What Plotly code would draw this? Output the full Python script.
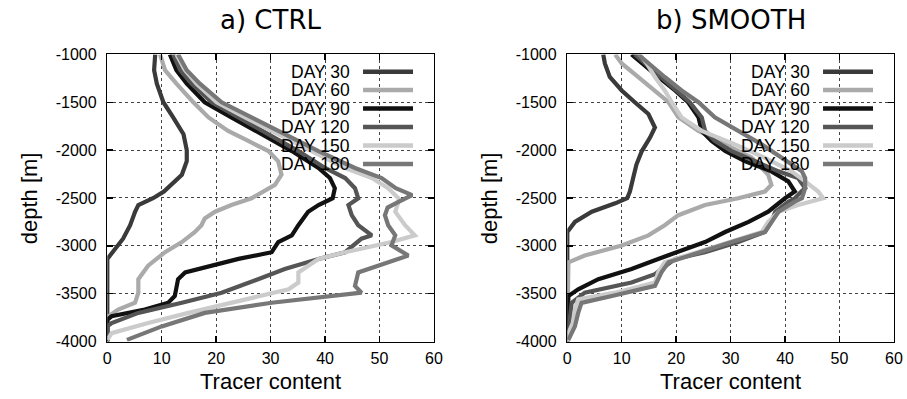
import plotly.graph_objects as go

# ---------------- DATA ----------------
DAYS = ["DAY 30", "DAY 60", "DAY 90", "DAY 120", "DAY 150", "DAY 180"]
COLORS = ["#3a3a3a", "#aaaaaa", "#111111", "#555555", "#cbcbcb", "#777777"]
X_TICKS = [0, 10, 20, 30, 40, 50, 60]
Y_TICKS = [-1000, -1500, -2000, -2500, -3000, -3500, -4000]
PANEL_TITLES = ["a) CTRL", "b) SMOOTH"]
X_LABEL = "Tracer content"
Y_LABEL = "depth [m]"

# ---- panel a) CTRL ----
ctrl_d30_z = [-1000, -1165, -1306, -1500, -1658, -1834, -2000, -2116, -2257, -2363, -2433, -2503, -2574, -2644, -2785, -2926, -3067, -3137, -4000]
ctrl_d30_x = [8.8, 8.6, 9.1, 10.3, 12.1, 14.0, 14.6, 14.6, 13.7, 11.8, 10.4, 8.4, 5.7, 5.1, 4.2, 2.9, 0.8, 0, 0]

ctrl_d60_z = [-1000, -1165, -1306, -1500, -1658, -1799, -1904, -2010, -2116, -2257, -2363, -2433, -2503, -2574, -2644, -2715, -2785, -2856, -2961, -3067, -3208, -3349, -3490, -3595, -3666, -3736, -4000]
ctrl_d60_x = [9.7, 10.6, 12.7, 15.8, 18.6, 22.2, 25.9, 29.6, 31.4, 32.0, 30.8, 28.8, 26.5, 22.8, 19.8, 17.9, 17.3, 16.1, 13.7, 10.6, 7.5, 5.7, 5.7, 5.1, 2.0, 0.2, 0]

ctrl_d90_z = [-1000, -1165, -1306, -1500, -1658, -1834, -2010, -2187, -2292, -2398, -2503, -2574, -2644, -2785, -2891, -2961, -3067, -3137, -3243, -3278, -3349, -3455, -3525, -3595, -3666, -3736, -3772, -4000]
ctrl_d90_x = [11.5, 12.7, 14.6, 17.9, 22.8, 28.4, 33.9, 38.8, 40.9, 41.8, 41.4, 38.8, 36.9, 35.1, 33.9, 31.4, 30.2, 24.1, 16.7, 14.3, 13.0, 12.7, 12.4, 11.2, 6.9, 0.8, 0, 0]

ctrl_d120_z = [-1000, -1165, -1306, -1500, -1658, -1834, -2010, -2187, -2292, -2398, -2504, -2574, -2680, -2785, -2891, -2926, -3067, -3137, -3243, -3349, -3490, -3595, -3701, -3807, -3842, -4000]
ctrl_d120_x = [12.1, 13.4, 15.5, 19.2, 24.1, 29.6, 35.1, 40.0, 43.7, 45.5, 46.1, 44.3, 44.9, 46.1, 48.6, 46.7, 43.7, 38.8, 32.6, 27.7, 21.0, 13.7, 5.7, 0.8, 0, 0]

ctrl_d150_z = [-1000, -1165, -1306, -1500, -1658, -1834, -2010, -2187, -2292, -2398, -2504, -2539, -2644, -2785, -2891, -2961, -3067, -3137, -3278, -3384, -3455, -3560, -3701, -3807, -3913, -3983]
ctrl_d150_x = [12.7, 14.3, 16.4, 20.1, 25.3, 31.4, 37.5, 43.7, 48.6, 51.6, 53.5, 53.5, 52.9, 54.7, 56.5, 52.2, 43.7, 38.8, 35.1, 35.1, 33.3, 25.3, 14.9, 7.5, 0.8, 0]

ctrl_d180_z = [-1000, -1165, -1306, -1500, -1658, -1834, -2010, -2187, -2292, -2398, -2470, -2540, -2600, -2680, -2785, -2891, -2996, -3102, -3173, -3278, -3419, -3490, -3595, -3701, -3842, -3983]
ctrl_d180_x = [13.0, 14.6, 17.0, 21.0, 26.5, 32.6, 38.8, 45.5, 50.4, 53.0, 56.0, 53.5, 51.5, 51.0, 51.6, 52.9, 52.2, 55.3, 51.6, 46.1, 45.5, 46.7, 30.2, 17.9, 10.0, 3.6]

# ---- panel b) SMOOTH ----
smooth_d30_z = [-1000, -1095, -1236, -1377, -1500, -1623, -1764, -1869, -2010, -2151, -2292, -2433, -2503, -2556, -2644, -2750, -2856, -4000]
smooth_d30_x = [6.6, 6.9, 7.8, 10.0, 12.4, 14.9, 16.1, 15.2, 13.7, 12.7, 12.1, 11.5, 11.0, 8.8, 4.5, 1.4, 0, 0]

smooth_d60_z = [-1000, -1095, -1236, -1377, -1500, -1658, -1799, -1940, -2080, -2257, -2363, -2433, -2503, -2574, -2680, -2785, -2891, -2996, -3102, -3173, -4000]
smooth_d60_x = [8.8, 10.0, 13.0, 16.1, 18.6, 20.4, 24.1, 29.0, 33.9, 36.9, 37.5, 36.3, 31.4, 25.3, 20.4, 17.9, 14.9, 10.0, 3.2, 0.2, 0]

smooth_d90_z = [-1000, -1095, -1236, -1377, -1500, -1658, -1799, -1904, -2010, -2116, -2222, -2327, -2433, -2503, -2644, -2750, -2856, -2961, -3067, -3137, -3243, -3349, -3455, -3525, -4000]
smooth_d90_x = [11.8, 13.7, 16.7, 19.8, 22.2, 24.1, 24.7, 26.5, 29.0, 32.6, 37.5, 40.6, 41.8, 40.0, 36.9, 33.3, 29.0, 25.3, 19.8, 16.7, 11.8, 5.7, 2.0, 0.2, 0]

smooth_d120_z = [-1000, -1095, -1236, -1377, -1500, -1658, -1799, -1904, -2010, -2116, -2222, -2292, -2398, -2433, -2504, -2539, -2644, -2750, -2856, -2961, -3067, -3137, -3243, -3296, -3384, -3490, -3596, -3736, -4000]
smooth_d120_x = [12.4, 14.3, 17.0, 19.8, 22.5, 24.7, 25.3, 27.1, 30.2, 34.5, 38.8, 42.4, 43.7, 43.0, 41.8, 40.6, 38.2, 37.5, 36.3, 31.4, 25.3, 19.8, 17.3, 16.1, 11.8, 3.2, 0.8, 0.5, 0]

smooth_d150_z = [-1000, -1095, -1236, -1377, -1500, -1658, -1799, -1940, -2081, -2222, -2327, -2433, -2503, -2574, -2644, -2750, -2856, -2961, -3067, -3173, -3278, -3384, -3490, -3560, -3666, -3807, -3912, -4000]
smooth_d150_x = [13.3, 14.6, 16.1, 17.9, 19.2, 21.0, 24.7, 30.8, 36.3, 41.2, 43.7, 46.1, 47.0, 42.4, 38.8, 36.9, 35.7, 29.6, 24.1, 17.9, 16.7, 16.1, 8.8, 2.0, 1.4, 1.0, 0.2, 0]

smooth_d180_z = [-1000, -1095, -1236, -1377, -1500, -1658, -1799, -1940, -2081, -2222, -2292, -2398, -2503, -2539, -2644, -2750, -2856, -2961, -3067, -3173, -3278, -3419, -3525, -3596, -3701, -3842, -3983]
smooth_d180_x = [13.0, 14.9, 17.9, 21.0, 24.1, 27.1, 31.4, 35.7, 39.4, 43.1, 43.7, 43.7, 43.1, 41.8, 38.8, 37.5, 36.3, 30.2, 24.1, 18.6, 17.3, 16.1, 8.2, 2.6, 2.0, 1.4, 0.2]

CTRL = [(ctrl_d30_x, ctrl_d30_z), (ctrl_d60_x, ctrl_d60_z), (ctrl_d90_x, ctrl_d90_z),
        (ctrl_d120_x, ctrl_d120_z), (ctrl_d150_x, ctrl_d150_z), (ctrl_d180_x, ctrl_d180_z)]
SMOOTH = [(smooth_d30_x, smooth_d30_z), (smooth_d60_x, smooth_d60_z), (smooth_d90_x, smooth_d90_z),
          (smooth_d120_x, smooth_d120_z), (smooth_d150_x, smooth_d150_z), (smooth_d180_x, smooth_d180_z)]

# ---------------- FIGURE ----------------
W, H = 907, 399
fig = go.Figure()

panels = [(CTRL, "x", "y"), (SMOOTH, "x2", "y2")]
for data, xa, ya in panels:
    for (xs, zs), name, col in zip(data, DAYS, COLORS):
        fig.add_trace(go.Scatter(x=xs, y=zs, mode="lines", name=name, xaxis=xa, yaxis=ya,
                                 line=dict(color=col, width=4.2), showlegend=False))

x_domains = [[107.3 / W, 433.9 / W], [567.3 / W, 893.9 / W]]
y_domain = [1 - 341.5 / H, 1 - 54.4 / H]

tick_font = dict(family="Liberation Sans, Arial, sans-serif", size=16, color="black")
common_x = dict(range=[0, 60], tickvals=X_TICKS, ticktext=[str(v) for v in X_TICKS],
                ticks="inside", ticklen=6, tickwidth=1.5,
                tickcolor="black", showline=True, linewidth=1.5, linecolor="black", mirror="ticks",
                showgrid=True, gridcolor="#444444", griddash="dot", gridwidth=1,
                zeroline=False, tickfont=tick_font, ticklabelstandoff=2, automargin=False)
common_y = dict(range=[-4000, -1000], tickvals=Y_TICKS, ticktext=[str(v) for v in Y_TICKS],
                ticks="inside", ticklen=6, tickwidth=1.5,
                tickcolor="black", showline=True, linewidth=1.5, linecolor="black", mirror="ticks",
                showgrid=True, gridcolor="#444444", griddash="dot", gridwidth=1,
                zeroline=False, tickfont=tick_font, ticklabelstandoff=6, automargin=False)

fig.update_layout(
    template="none",
    width=W, height=H, margin=dict(l=0, r=0, t=0, b=0, pad=0),
    paper_bgcolor="white", plot_bgcolor="white",
    xaxis=dict(domain=x_domains[0], anchor="y", **common_x),
    yaxis=dict(domain=y_domain, anchor="x", **common_y),
    xaxis2=dict(domain=x_domains[1], anchor="y2", **common_x),
    yaxis2=dict(domain=y_domain, anchor="x2", **common_y),
)

annotations = []
shapes = []
title_font = dict(family="DejaVu Sans, sans-serif", size=26, color="black")
label_font = dict(family="Liberation Sans, Arial, sans-serif", size=22, color="black")
legend_font = dict(family="Liberation Sans, Arial, sans-serif", size=17.5, color="black")

for i, (xa, ya) in enumerate([("x", "y"), ("x2", "y2")]):
    d0, d1 = x_domains[i]
    cx = (d0 + d1) / 2
    annotations.append(dict(text=PANEL_TITLES[i], x=cx, y=1 - 20 / H, xref="paper", yref="paper",
                            xanchor="center", yanchor="middle", showarrow=False, font=title_font))
    annotations.append(dict(text=X_LABEL, x=cx, y=1 - 381 / H, xref="paper", yref="paper",
                            xanchor="center", yanchor="middle", showarrow=False, font=label_font))
    annotations.append(dict(text=Y_LABEL, x=d0 - 77 / W, y=(y_domain[0] + y_domain[1]) / 2,
                            xref="paper", yref="paper", xanchor="center", yanchor="middle",
                            textangle=-90, showarrow=False, font=label_font))
    # legend (text left of line sample)
    for k, (name, col) in enumerate(zip(DAYS, COLORS)):
        yy = 0.940 - k * 0.0644
        annotations.append(dict(text=name, x=0.748, y=yy, xref=f"{xa} domain", yref=f"{ya} domain",
                                xanchor="right", yanchor="middle", showarrow=False, font=legend_font))
        shapes.append(dict(type="line", x0=0.783, x1=0.936, y0=yy, y1=yy,
                           xref=f"{xa} domain", yref=f"{ya} domain",
                           line=dict(color=col, width=4.5), layer="above"))

fig.update_layout(annotations=annotations, shapes=shapes)
fig.write_html("out.html", config={"displayModeBar": False, "staticPlot": True},
               post_script="document.body.style.margin='0';document.body.style.padding='0';document.body.style.overflow='hidden';")
